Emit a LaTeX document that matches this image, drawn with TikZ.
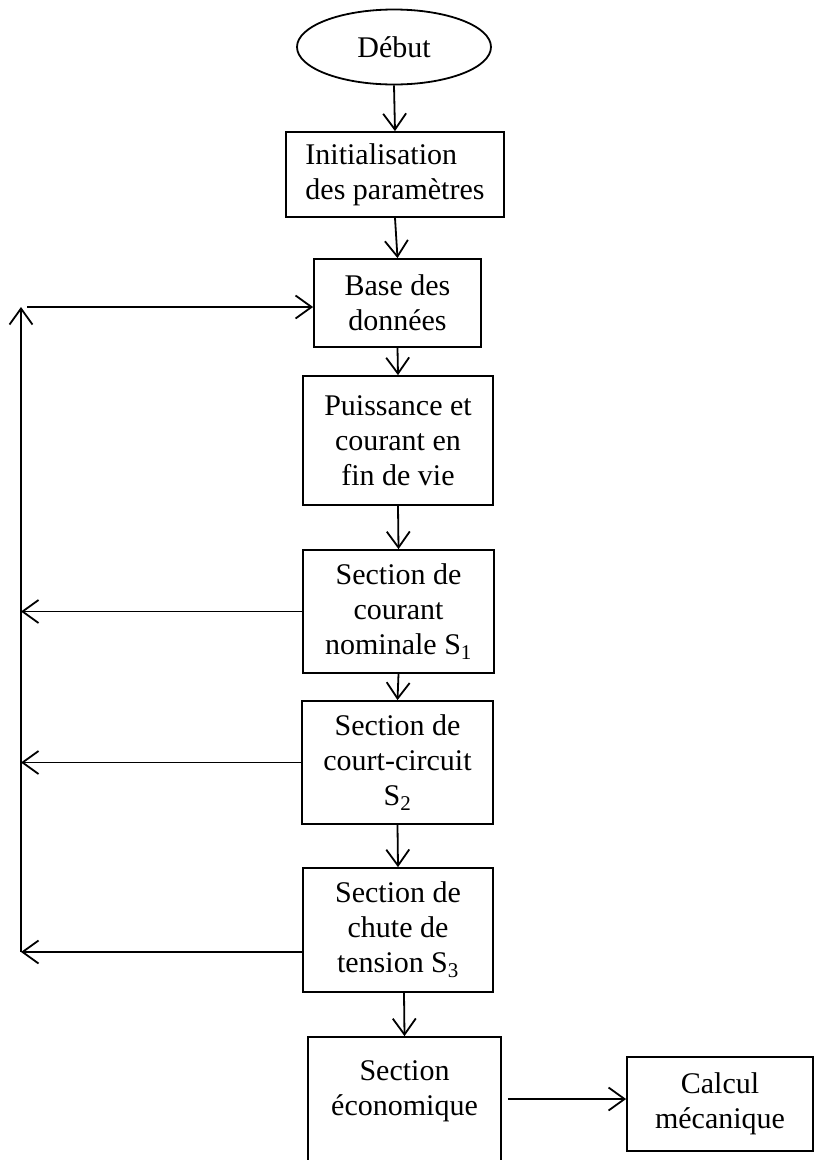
\documentclass[tikz,border=0pt]{standalone}
\usepackage{fontspec}
\setmainfont{Liberation Serif}
\usetikzlibrary{arrows.meta,shapes.geometric}
\tikzset{bx/.style={draw,line width=1.8pt,align=center,inner sep=0pt},
 ov/.style={draw,ellipse,line width=1.8pt,inner sep=0pt,minimum width=194pt,minimum height=75pt},
 flow/.style={-{Straight Barb[length=16pt,width=23pt,line width=1.8pt]},line width=1.8pt}}
\begin{document}
\begin{tikzpicture}[x=1pt,y=-1pt,font=\fontsize{30}{35}\selectfont]
\useasboundingbox (0,0) rectangle (838,1160);
\node[ov](deb) at (394,47){Début};
\node[bx,align=left,minimum width=218pt,minimum height=85pt](init) at (395,174.5){Initialisation\\des paramètres};
\node[bx,minimum width=167pt,minimum height=88pt](base) at (397.5,303){Base des\\données};
\node[bx,minimum width=190pt,minimum height=129pt](puis) at (398,440.5){Puissance et\\courant en\\fin de vie};
\node[bx,minimum width=191pt,minimum height=123pt](s1) at (398.5,611.5){Section de\\courant\\nominale S\textsubscript{1}};
\node[bx,minimum width=191pt,minimum height=123pt](s2) at (397.5,762.5){Section de\\court-circuit\\S\textsubscript{2}};
\node[bx,minimum width=190pt,minimum height=124pt](s3) at (398,930){Section de\\chute de\\tension S\textsubscript{3}};
\node[bx,minimum width=193pt,minimum height=132pt,label={[align=center,yshift=12pt]center:{Section\\économique}}](eco) at (404.5,1103){};
\node[bx,minimum width=186pt,minimum height=94pt](calc) at (720,1104){Calcul\\mécanique};
\coordinate(lt) at (21,307);\coordinate(lb) at (21,952);
% chaine principale
\draw[flow](deb.south)--(init.north);\draw[flow](init.south)--(base.north);
\draw[flow](base.south)--(puis.north);\draw[flow](puis.south)--(s1.north);
\draw[flow](s1.south)--(s2.north);\draw[flow](s2.south)--(s3.north);
\draw[flow]([xshift=6pt]s3.south)--(eco.north);
\draw[flow]([xshift=6pt,yshift=4pt]eco.east)--([yshift=4pt]eco.east -| calc.west);
% retours
\draw[flow](s1.west)--(s1.west -| lt);\draw[flow](s2.west)--(s2.west -| lt);
\draw[flow](s3.west |- lb)--(lb);
\draw[flow](lb)--(lt);\draw[flow]([xshift=6pt]lt)--(lt -| base.west);
\end{tikzpicture}
\end{document}
